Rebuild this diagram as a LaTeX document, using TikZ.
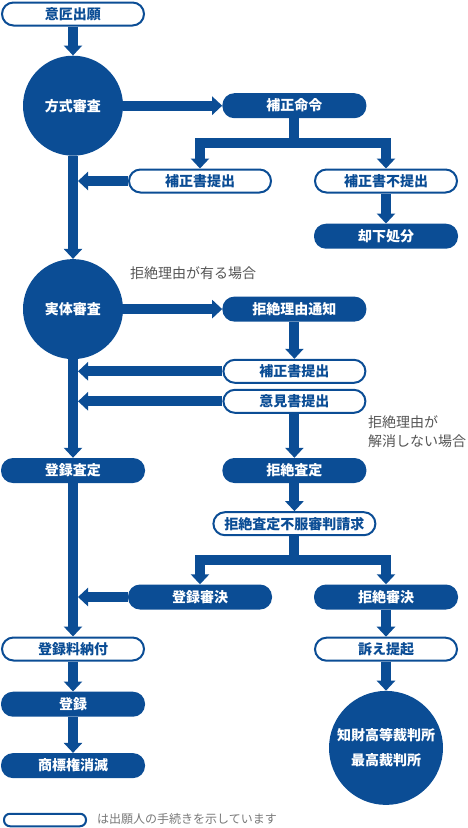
\documentclass[tikz,border=0pt]{standalone}
\usepackage{fontspec}
\setmainfont{Noto Sans CJK JP}
\usetikzlibrary{positioning,arrows.meta}
\definecolor{FlowBlue}{RGB}{11,77,149}
\definecolor{NoteGray}{RGB}{85,85,85}
\definecolor{LegendGray}{RGB}{120,120,120}

\begin{document}
\begin{tikzpicture}[
x=1pt,y=1pt,
node distance=30pt,
base/.style={rectangle,rounded corners=12pt,minimum width=144pt,minimum height=25pt,inner sep=0pt,align=center,font=\bfseries\fontsize{14}{16}\selectfont},
sub/.style={base,draw=FlowBlue,line width=2pt,fill=white,text=FlowBlue,rounded corners=11.5pt,minimum width=142pt,minimum height=23pt},
act/.style={base,fill=FlowBlue,text=white},
exam/.style={circle,fill=FlowBlue,text=white,minimum size=100pt,inner sep=0pt,align=center,font=\bfseries\fontsize{14}{25}\selectfont},
note/.style={text=NoteGray,align=left,inner sep=0pt,font=\fontsize{14}{19}\selectfont},
flow/.style={-{Triangle[width=18pt,length=10pt]},line width=10pt,draw=FlowBlue},
fork/.style={flow,{Triangle[width=18pt,length=10pt]}-{Triangle[width=18pt,length=10pt]},line join=miter}
]
\useasboundingbox (0,0) rectangle (467,-828);

\node[sub] (app) at (73,-14) {意匠出願};
\node[exam,below=29pt of app] (fs) {方式審査};
\node[act,right=99pt of fs] (hm) {補正命令};
\node[sub] (hs) at (200,-181) {補正書提出};
\node[sub] (hn) at (386,-181) {補正書不提出};
\node[act,below=30pt of hn] (kk) {却下処分};
\node[exam,below=103pt of fs] (js) {実体審査};
\node[note,anchor=west] (nr) at (130,-273) {拒絶理由が有る場合};
\node[act,right=99pt of js] (rn) {拒絶理由通知};
\node[sub,below=37pt of rn] (hs2) {補正書提出};
\node[sub,below=5pt of hs2] (ik) {意見書提出};
\node[note,anchor=west] (nk) at (368,-432) {拒絶理由が\\解消しない場合};
\node[act,below=44pt of ik] (ksa) {拒絶査定};
\node[act,left=77pt of ksa] (tsa) {登録査定};
\node[sub,below=28pt of ksa,minimum width=162pt] (fuf) {拒絶査定不服審判請求};
\node[act] (tsk) at (200,-597) {登録審決};
\node[act] (ksk) at (386,-597) {拒絶審決};
\node[sub,below=27pt of ksk] (uk) {訴え提起};
\node[exam,below=29pt of uk,minimum size=114pt] (kc) {知財高等裁判所\\最高裁判所};
\node[sub] (tr) at (73,-649) {登録料納付};
\node[act,below=30pt of tr] (tk) {登録};
\node[act,below=36pt of tk] (sm) {商標権消滅};
\node[sub,minimum width=82pt,minimum height=12.5pt,rounded corners=6pt] (lg) at (45,-820) {};
\node[note,anchor=west,text=LegendGray,font=\fontsize{12}{14}\selectfont] (lt) at (97,-819) {は出願人の手続きを示しています};

\coordinate (mr) at (78,0);
\draw[flow] (app) -- (fs);
\draw[flow] (fs) -- (hm);
\draw[flow,-] (hm.south) -- ++(0,-24.5) coordinate (hb);
\draw[fork] (hs.north) |- (hb) -| (hn.north);
\draw[flow] (hs.west) -- (hs.west -| mr);
\draw[flow] (hn) -- (kk);
\draw[flow] (fs) -- (js);
\draw[flow] (js) -- (rn);
\draw[flow] (rn) -- (hs2);
\draw[flow] (hs2.west) -- (hs2.west -| mr);
\draw[flow] (ik.west) -- (ik.west -| mr);
\draw[flow] (ik) -- (ksa);
\draw[flow] (js) -- (tsa);
\draw[flow] (ksa) -- (fuf);
\draw[flow,-] (fuf.south) -- ++(0,-23.5) coordinate (fb);
\draw[fork] (tsk.north) |- (fb) -| (ksk.north);
\draw[flow] (tsk.west) -- (tsk.west -| mr);
\draw[flow] (tsa) -- (tr);
\draw[flow] (tr) -- (tk);
\draw[flow] (tk) -- (sm);
\draw[flow] (ksk) -- (uk);
\draw[flow] (uk) -- (kc);
\end{tikzpicture}
\end{document}
